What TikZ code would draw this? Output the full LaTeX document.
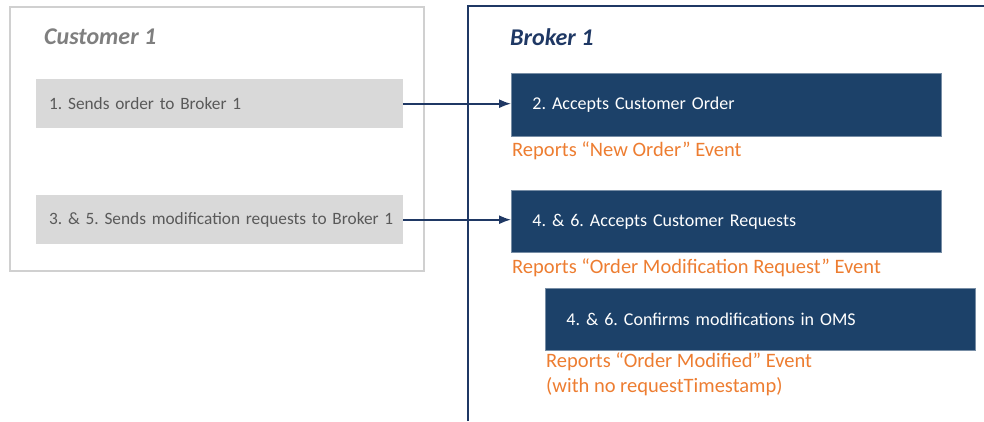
\documentclass[tikz,border=0pt]{standalone}
\usepackage{fontspec}
\setmainfont{Carlito}
\usetikzlibrary{positioning,arrows.meta}
\definecolor{navy}{HTML}{1F3864}
\definecolor{boxblue}{HTML}{1C4169}
\definecolor{lightgray}{HTML}{D9D9D9}
\definecolor{framegray}{HTML}{D0D0D0}
\definecolor{textgray}{HTML}{595959}
\definecolor{titlegray}{HTML}{7F7F7F}
\definecolor{evorange}{HTML}{ED7D31}
\frenchspacing
\begin{document}
\begin{tikzpicture}[x=1pt,y=-1pt,>={Latex[length=12pt,width=9pt]}]
  \tikzstyle{txt}=[font=\fontsize{18}{24}\selectfont]
  \tikzstyle{title}=[font=\fontsize{24}{26}\selectfont\bfseries\itshape,inner sep=0,anchor=west]
  \tikzstyle{custbox}=[font=\fontsize{17.3}{22}\selectfont,fill=lightgray,text=textgray,anchor=north west,align=left,inner xsep=13pt,inner ysep=0,minimum width=367pt,minimum height=49pt,text width=341pt]
  \tikzstyle{brokbox}=[txt,fill=boxblue,draw=boxblue!60,line width=0.8pt,text=white,anchor=north west,align=left,inner xsep=21pt,inner ysep=0,minimum width=430pt,minimum height=63pt,text width=388pt]
  \tikzstyle{event}=[font=\fontsize{20.5}{25}\selectfont,text=evorange,inner sep=0,align=left]
  \useasboundingbox (0,0) rectangle (984,421);
  % frames
  \node[draw=framegray,line width=2pt,anchor=north west,minimum width=414pt,minimum height=264pt,inner sep=0] (cust) at (9,6) {};
  \draw[navy,line width=2pt] (468,421) coordinate (bbot) |- (990,6) coordinate (btop);
  \node[title,text=titlegray] (custlbl) at (44,37) {Customer 1};
  \node[title,text=navy] (broklbl) at (510,37) {Broker 1};
  % customer steps
  \node[custbox] (send) at (36,79) {1. Sends order to Broker 1};
  \node[custbox] (modreq) at (36,195) {\mbox{3. \& 5. Sends modification requests to Broker 1}};
  % broker steps
  \node[brokbox] (accord) at (511,73) {2. Accepts Customer Order};
  \node[brokbox,minimum height=62pt] (accreq) at (511,190) {4. \& 6. Accepts Customer Requests};
  \node[brokbox,minimum height=62pt] (confirm) at (545,288) {4. \& 6. Confirms modifications in OMS};
  % events
  \node[event,anchor=west] (evnew) at (512,151) {Reports “New Order” Event};
  \node[event,anchor=west] (evreq) at (512,268) {Reports “Order Modification Request” Event};
  \node[event,anchor=north west] (evmod) at (546,353) {Reports “Order Modified” Event\\(with no requestTimestamp)};
  % arrows
  \draw[->,navy,line width=1.6pt] (send.east) -- (send.east -| accord.west);
  \draw[->,navy,line width=1.6pt] (modreq.east) -- (modreq.east -| accreq.west);
\end{tikzpicture}
\end{document}
